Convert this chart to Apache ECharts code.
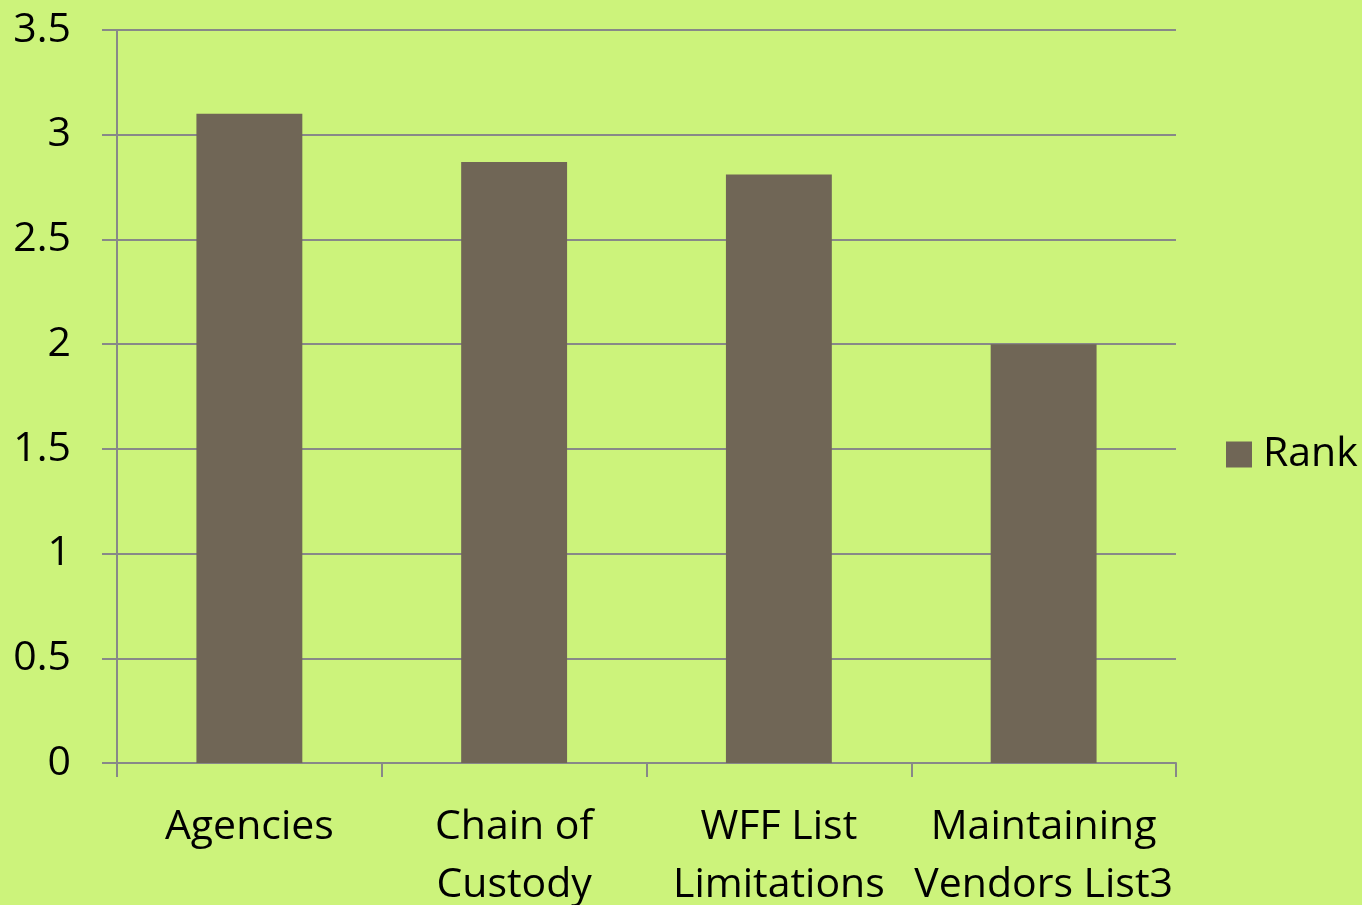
<!DOCTYPE html>
<html><head><meta charset="utf-8">
<script src="https://cdn.jsdelivr.net/npm/echarts@6/dist/echarts.min.js"></script>
<style>html,body{margin:0;padding:0;background:#ccf37b;overflow:hidden;}#c{width:1362px;height:905px;}</style>
</head><body><div id="c"></div>
<script>
const categories = ["Agencies", "Chain of\nCustody", "WFF List\nLimitations", "Maintaining\nVendors List3"];
const seriesName = "Rank";
const rankValues = [3.1, 2.87, 2.81, 2.0];
const yTicks = [0, 0.5, 1, 1.5, 2, 2.5, 3, 3.5];

const chart = echarts.init(document.getElementById('c'), null, {renderer: 'canvas'});
const font = 'Open Sans';
chart.setOption({
  backgroundColor: '#ccf37b',
  animation: false,
  grid: {left: 117, right: 186, top: 30, bottom: 142, containLabel: false, outerBoundsMode: 'none'},
  legend: {
    show: true, orient: 'vertical', left: 1221, top: 429,
    itemWidth: 26, itemHeight: 26, itemGap: 10,
    textStyle: {fontFamily: font, fontSize: 41, color: '#000', padding: [0,0,0,6]},
    data: [{name: seriesName, icon: 'rect'}]
  },
  xAxis: {
    type: 'category', data: categories,
    axisLine: {show: true, lineStyle: {color: '#888', width: 2}},
    axisTick: {show: true, length: 14, lineStyle: {color: '#888', width: 2}, alignWithLabel: false},
    axisLabel: {fontFamily: font, fontSize: 41, color: '#000', margin: 35, lineHeight: 58, interval: 0},
    splitLine: {show: false}
  },
  yAxis: {
    type: 'value', min: yTicks[0], max: yTicks[yTicks.length-1], interval: 0.5,
    axisLine: {show: true, lineStyle: {color: '#888', width: 2}},
    axisTick: {show: true, length: 15, lineStyle: {color: '#888', width: 2}},
    axisLabel: {fontFamily: font, fontSize: 41, color: '#000', margin: 46},
    splitLine: {show: true, lineStyle: {color: '#888', width: 2}}
  },
  series: [{
    name: seriesName, type: 'bar', data: rankValues, barWidth: '40%',
    itemStyle: {color: '#706656'}
  }]
});
</script></body></html>
